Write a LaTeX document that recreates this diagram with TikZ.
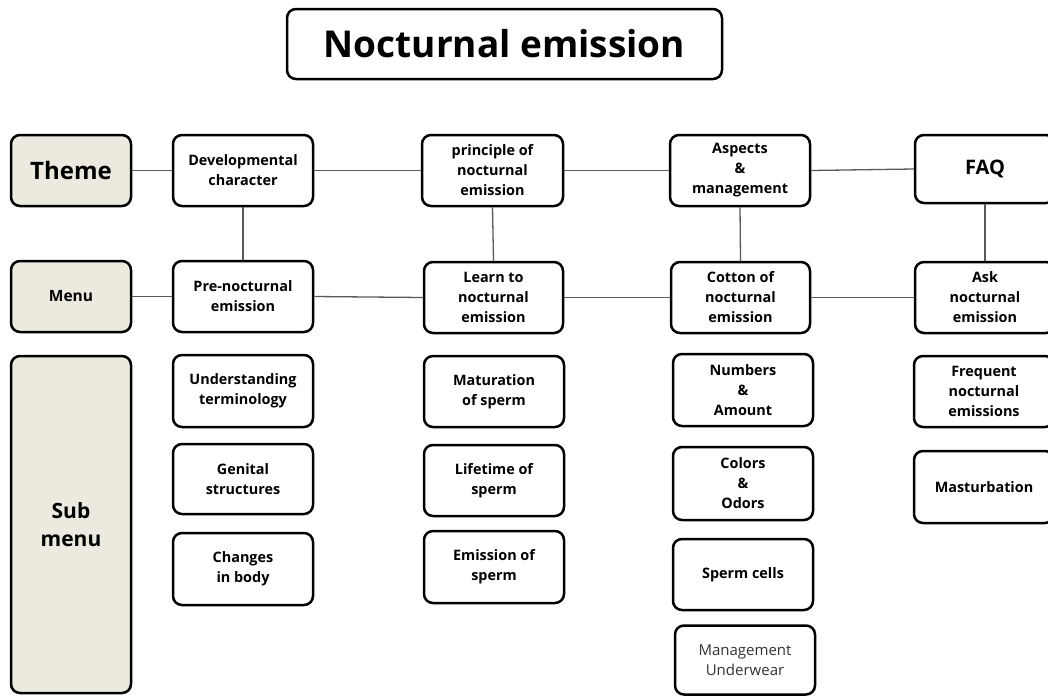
\documentclass[tikz,border=0pt]{standalone}
\usepackage{fontspec}
\setmainfont{Open Sans}
\definecolor{beige}{HTML}{ECE9DF}
\definecolor{lngray}{HTML}{5A5A5A}
\definecolor{txtgray}{HTML}{333333}
\tikzset{
  bx/.style={draw=black, line width=2.5pt, rounded corners=9pt, align=center,
    inner sep=0pt, fill=white, font=\bfseries\fontsize{14.4}{20}\selectfont},
  hd/.style={bx, fill=beige},
  ln/.style={draw=lngray, line width=1.3pt}
}
\begin{document}
\begin{tikzpicture}[x=1pt,y=-1pt]
\path[use as bounding box, clip] (0,0) rectangle (1048,696);
\fill[white] (0,0) rectangle (1048,696);
% title
\node[bx, minimum width=435pt, minimum height=70pt, font=\bfseries\fontsize{37}{40}\selectfont] (title) at (504.5,44) {Nocturnal emission};
% headers
\node[hd, minimum width=120pt, minimum height=71pt, font=\bfseries\fontsize{24}{28}\selectfont] (theme) at (71,170.5) {Theme};
\node[hd, minimum width=120pt, minimum height=71pt, font=\bfseries\fontsize{15.5}{19}\selectfont] (menu) at (71,296.5) {Menu};
\node[hd, minimum width=120pt, minimum height=337pt, font=\bfseries\fontsize{21}{28}\selectfont] (sub) at (71,524.5) {Sub\\menu};
% column 1
\node[bx, minimum width=140pt, minimum height=71pt] (dev) at (243,170.5) {Developmental\\character};
\node[bx, minimum width=140pt, minimum height=71pt] (pre) at (243,296.5) {Pre-nocturnal\\emission};
\node[bx, minimum width=140pt, minimum height=72pt] (und) at (243,391) {Understanding\\terminology};
\node[bx, minimum width=140pt, minimum height=70pt] (gen) at (243,479) {Genital\\structures};
\node[bx, minimum width=140pt, minimum height=72pt] (chg) at (243,569) {Changes\\in body};
% column 2
\node[bx, minimum width=141pt, minimum height=71pt] (pri) at (492.5,170.5) {principle of\\nocturnal\\emission};
\node[bx, minimum width=139pt, minimum height=71pt] (lrn) at (493.5,297.5) {Learn to\\nocturnal\\emission};
\node[bx, minimum width=140pt, minimum height=71pt] (mat) at (494,391.5) {Maturation\\of sperm};
\node[bx, minimum width=140pt, minimum height=71pt] (life) at (494,480.5) {Lifetime of\\sperm};
\node[bx, minimum width=140pt, minimum height=72pt] (emi) at (494,567) {Emission of\\sperm};
% column 3
\node[bx, minimum width=140pt, minimum height=71pt] (asp) at (740,170.5) {Aspects\\\&\\management};
\node[bx, minimum width=139pt, minimum height=71pt] (cot) at (740.5,297.5) {Cotton of\\nocturnal\\emission};
\node[bx, minimum width=140pt, minimum height=72pt] (num) at (743,390) {Numbers\\\&\\Amount};
\node[bx, minimum width=140pt, minimum height=73pt] (col) at (743,483.5) {Colors\\\&\\Odors};
\node[bx, minimum width=140pt, minimum height=71pt] (spc) at (743,574.5) {Sperm cells};
\node[bx, minimum width=140pt, minimum height=69pt, font=\mdseries\fontsize{15}{20}\selectfont, text=txtgray] (mgt) at (745,660) {Management\\Underwear};
% column 4
\node[bx, minimum width=140pt, minimum height=68pt, font=\bfseries\fontsize{20}{24}\selectfont] (faq) at (985,169) {FAQ};
\node[bx, minimum width=140pt, minimum height=71pt] (ask) at (985,297.5) {Ask\\nocturnal\\emission};
\node[bx, minimum width=140pt, minimum height=71pt] (frq) at (984,391.5) {Frequent\\nocturnal\\emissions};
\node[bx, minimum width=140pt, minimum height=72pt] (mas) at (984,487) {Masturbation};
% connectors
\draw[ln] (theme.east) -- (dev.west);
\draw[ln] (dev.east) -- (pri.west);
\draw[ln] (pri.east) -- (asp.west);
\draw[ln] (asp.east) -- (faq.west);
\draw[ln] (menu.east) -- (pre.west);
\draw[ln] (pre.east) -- (lrn.west);
\draw[ln] (lrn.east) -- (cot.west);
\draw[ln] (cot.east) -- (ask.west);
\draw[ln] (dev.south) -- (pre.north);
\draw[ln] (pri.south) -- (lrn.north);
\draw[ln] (asp.south) -- (cot.north);
\draw[ln] (faq.south) -- (ask.north);
\end{tikzpicture}
\end{document}
